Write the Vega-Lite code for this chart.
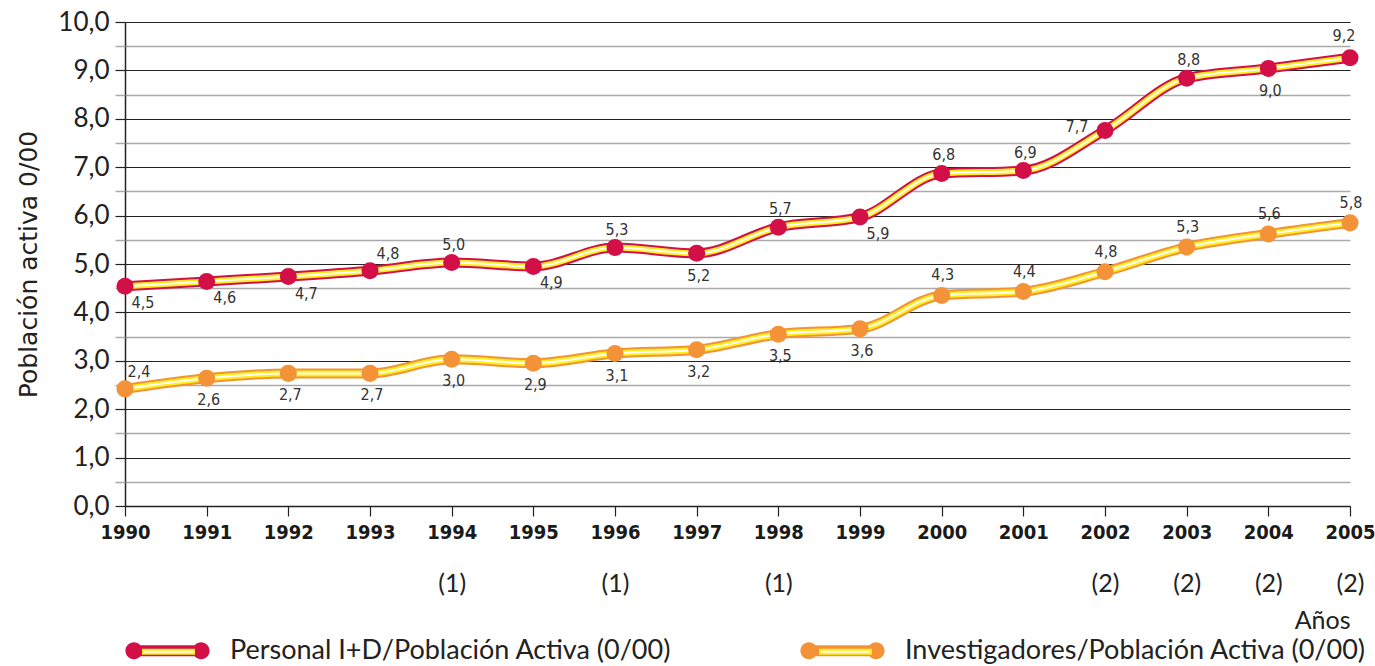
{
  "$schema": "https://vega.github.io/schema/vega-lite/v6.json",
  "width": 1225,
  "height": 484,
  "autosize": {"type": "none"},
  "padding": {"left": 125, "top": 22, "right": 25, "bottom": 160},
  "background": "white",
  "config": {"view": {"stroke": null}, "font": "Lato"},
  "data": {"values": [
    {"year": 1990, "serie": "Personal I+D/Población Activa (0/00)", "value": 4.54, "label": "4,5"},
    {"year": 1991, "serie": "Personal I+D/Población Activa (0/00)", "value": 4.64, "label": "4,6"},
    {"year": 1992, "serie": "Personal I+D/Población Activa (0/00)", "value": 4.74, "label": "4,7"},
    {"year": 1993, "serie": "Personal I+D/Población Activa (0/00)", "value": 4.86, "label": "4,8"},
    {"year": 1994, "serie": "Personal I+D/Población Activa (0/00)", "value": 5.03, "label": "5,0"},
    {"year": 1995, "serie": "Personal I+D/Población Activa (0/00)", "value": 4.95, "label": "4,9"},
    {"year": 1996, "serie": "Personal I+D/Población Activa (0/00)", "value": 5.34, "label": "5,3"},
    {"year": 1997, "serie": "Personal I+D/Población Activa (0/00)", "value": 5.22, "label": "5,2"},
    {"year": 1998, "serie": "Personal I+D/Población Activa (0/00)", "value": 5.76, "label": "5,7"},
    {"year": 1999, "serie": "Personal I+D/Población Activa (0/00)", "value": 5.97, "label": "5,9"},
    {"year": 2000, "serie": "Personal I+D/Población Activa (0/00)", "value": 6.87, "label": "6,8"},
    {"year": 2001, "serie": "Personal I+D/Población Activa (0/00)", "value": 6.93, "label": "6,9"},
    {"year": 2002, "serie": "Personal I+D/Población Activa (0/00)", "value": 7.76, "label": "7,7"},
    {"year": 2003, "serie": "Personal I+D/Población Activa (0/00)", "value": 8.84, "label": "8,8"},
    {"year": 2004, "serie": "Personal I+D/Población Activa (0/00)", "value": 9.04, "label": "9,0"},
    {"year": 2005, "serie": "Personal I+D/Población Activa (0/00)", "value": 9.26, "label": "9,2"},
    {"year": 1990, "serie": "Investigadores/Población Activa (0/00)", "value": 2.42, "label": "2,4"},
    {"year": 1991, "serie": "Investigadores/Población Activa (0/00)", "value": 2.64, "label": "2,6"},
    {"year": 1992, "serie": "Investigadores/Población Activa (0/00)", "value": 2.74, "label": "2,7"},
    {"year": 1993, "serie": "Investigadores/Población Activa (0/00)", "value": 2.74, "label": "2,7"},
    {"year": 1994, "serie": "Investigadores/Población Activa (0/00)", "value": 3.03, "label": "3,0"},
    {"year": 1995, "serie": "Investigadores/Población Activa (0/00)", "value": 2.95, "label": "2,9"},
    {"year": 1996, "serie": "Investigadores/Población Activa (0/00)", "value": 3.15, "label": "3,1"},
    {"year": 1997, "serie": "Investigadores/Población Activa (0/00)", "value": 3.23, "label": "3,2"},
    {"year": 1998, "serie": "Investigadores/Población Activa (0/00)", "value": 3.55, "label": "3,5"},
    {"year": 1999, "serie": "Investigadores/Población Activa (0/00)", "value": 3.66, "label": "3,6"},
    {"year": 2000, "serie": "Investigadores/Población Activa (0/00)", "value": 4.35, "label": "4,3"},
    {"year": 2001, "serie": "Investigadores/Población Activa (0/00)", "value": 4.43, "label": "4,4"},
    {"year": 2002, "serie": "Investigadores/Población Activa (0/00)", "value": 4.84, "label": "4,8"},
    {"year": 2003, "serie": "Investigadores/Población Activa (0/00)", "value": 5.35, "label": "5,3"},
    {"year": 2004, "serie": "Investigadores/Población Activa (0/00)", "value": 5.62, "label": "5,6"},
    {"year": 2005, "serie": "Investigadores/Población Activa (0/00)", "value": 5.85, "label": "5,8"}
  ]},
  "resolve": {"axis": {"x": "independent", "y": "independent"}},
  "layer": [
    {
      "mark": {"type": "line", "strokeWidth": 10, "interpolate": "monotone"},
      "encoding": {
        "x": {"field": "year", "type": "ordinal", "sort": "ascending",
          "scale": {"type": "point", "padding": 0},
          "axis": {"title": null, "labelAngle": 0, "domainColor": "#222", "domainWidth": 1.5, "tickColor": "#222", "tickWidth": 1.2, "tickSize": 10, "grid": false,
            "labelFont": "DejaVu Sans Condensed", "labelFontWeight": "bold", "labelFontSize": 20, "labelColor": "#1a1a1a", "labelPadding": 6}},
        "y": {"field": "value", "type": "quantitative",
          "scale": {"domain": [0, 10], "nice": false, "zero": true},
          "axis": {"values": [0,1,2,3,4,5,6,7,8,9,10], "grid": true, "gridColor": "#222", "gridWidth": 1.2, "gridOpacity": 1,
            "tickColor": "#222", "tickSize": 10, "tickWidth": 1.2, "domainColor": "#222", "domainWidth": 1.5,
            "labelExpr": "replace(format(datum.value, '.1f'), '.', ',')", "labelFont": "Lato", "labelFontSize": 26, "labelColor": "#222", "labelPadding": 6,
            "title": "Población activa 0/00", "titleFont": "DejaVu Sans", "titleFontSize": 25, "titleFontWeight": "normal", "titleColor": "#222", "titlePadding": 16}},
        "color": {"field": "serie", "type": "nominal",
          "scale": {"domain": ["Personal I+D/Población Activa (0/00)", "Investigadores/Población Activa (0/00)"], "range": ["#D20F46", "#F39236"]},
          "legend": {"title": null, "orient": "none", "legendX": 0, "legendY": 586, "direction": "horizontal", "zindex": 0,
            "symbolType": "M -0.79 -0.2 A 0.2 0.2 0 1 1 -0.79 0.2 A 0.2 0.2 0 1 1 -0.79 -0.2 Z M 0.79 -0.2 A 0.2 0.2 0 1 1 0.79 0.2 A 0.2 0.2 0 1 1 0.79 -0.2 Z M -0.79 -0.13 L 0.79 -0.13 L 0.79 0.13 L -0.79 0.13 Z",
            "symbolSize": 7225, "symbolStrokeWidth": 0, "symbolOpacity": 1,
            "labelFont": "Lato", "labelFontSize": 27, "labelColor": "#222", "labelOffset": 20, "labelLimit": 700, "columnPadding": 128}}
      }
    },
    {
      "mark": {"type": "line", "strokeWidth": 6, "interpolate": "monotone", "color": "#FFEF1A"},
      "encoding": {
        "x": {"field": "year", "type": "ordinal", "sort": "ascending",
          "axis": {"orient": "bottom", "domain": false, "ticks": false, "grid": false, "labelAngle": 0,
            "labelExpr": "indexof([1994,1996,1998], +datum.value) >= 0 ? '(1)' : (+datum.value >= 2002 ? '(2)' : '')",
            "labelFont": "Lato", "labelFontSize": 25, "labelColor": "#222", "labelPadding": 65,
            "title": "Años", "titleAnchor": "end", "titleAlign": "right", "titleFont": "Lato", "titleFontSize": 25, "titleFontWeight": "normal", "titleColor": "#222", "titlePadding": 12}},
        "y": {"field": "value", "type": "quantitative",
          "axis": {"orient": "left", "values": [0.5,1.5,2.5,3.5,4.5,5.5,6.5,7.5,8.5,9.5], "grid": true, "gridColor": "#aaaaaa", "gridWidth": 1.5, "gridOpacity": 1,
            "tickColor": "#aaaaaa", "tickSize": 10, "tickWidth": 1.5, "domain": false, "labels": false, "title": null}},
        "detail": {"field": "serie"}
      }
    },
    {
      "transform": [{"calculate": "datum.serie + ' '", "as": "serie_key"}],
      "mark": {"type": "line", "strokeWidth": 2, "interpolate": "monotone", "color": "white"},
      "encoding": {
        "x": {"field": "year", "type": "ordinal", "sort": "ascending", "axis": null},
        "y": {"field": "value", "type": "quantitative", "axis": null},
        "detail": {"field": "serie"},
        "opacity": {"field": "serie_key", "type": "nominal",
          "scale": {"domain": ["Personal I+D/Población Activa (0/00) ", "Investigadores/Población Activa (0/00) "], "range": [1, 1]},
          "legend": {"title": null, "orient": "none", "legendX": 0, "legendY": 586, "direction": "horizontal", "zindex": 2,
            "symbolType": "M -0.99 0 L -0.99 0 M 0.99 0 L 0.99 0 M -0.6 -0.047 L 0.6 -0.047 L 0.6 0.047 L -0.6 0.047 Z",
            "symbolSize": 7225, "symbolStrokeWidth": 2, "symbolStrokeColor": "#FFEF1A", "symbolFillColor": "white", "symbolOpacity": 1,
            "labelExpr": "''", "labelFont": "Lato", "labelFontSize": 27, "labelOffset": 20, "labelLimit": 700, "columnPadding": 567}}
      }
    },
    {
      "mark": {"type": "point", "filled": true, "opacity": 1, "size": 290, "shape": "circle"},
      "encoding": {
        "x": {"field": "year", "type": "ordinal", "sort": "ascending", "axis": null},
        "y": {"field": "value", "type": "quantitative", "axis": null},
        "color": {"field": "serie", "type": "nominal"}
      }
    },
    {
      "transform": [{"filter": "(datum.serie == 'Personal I+D/Población Activa (0/00)' && indexof([1990,1991,1992,1995,1999], datum.year) >= 0)"}],
      "mark": {"type": "text", "font": "DejaVu Sans Condensed", "fontSize": 16, "color": "#333", "dx": 18, "dy": 17},
      "encoding": {"x": {"field": "year", "type": "ordinal", "sort": "ascending", "axis": null}, "y": {"field": "value", "type": "quantitative", "axis": null}, "text": {"field": "label"}}
    },
    {
      "transform": [{"filter": "(datum.serie == 'Personal I+D/Población Activa (0/00)' && datum.year == 1993)"}],
      "mark": {"type": "text", "font": "DejaVu Sans Condensed", "fontSize": 16, "color": "#333", "dx": 18, "dy": -17},
      "encoding": {"x": {"field": "year", "type": "ordinal", "sort": "ascending", "axis": null}, "y": {"field": "value", "type": "quantitative", "axis": null}, "text": {"field": "label"}}
    },
    {
      "transform": [{"filter": "(datum.serie == 'Personal I+D/Población Activa (0/00)' && indexof([1994,1996,1998,2000,2001,2003], datum.year) >= 0)"}],
      "mark": {"type": "text", "font": "DejaVu Sans Condensed", "fontSize": 16, "color": "#333", "dx": 2, "dy": -18},
      "encoding": {"x": {"field": "year", "type": "ordinal", "sort": "ascending", "axis": null}, "y": {"field": "value", "type": "quantitative", "axis": null}, "text": {"field": "label"}}
    },
    {
      "transform": [{"filter": "(datum.serie == 'Personal I+D/Población Activa (0/00)' && datum.year == 2005)"}],
      "mark": {"type": "text", "font": "DejaVu Sans Condensed", "fontSize": 16, "color": "#333", "dx": -6, "dy": -22},
      "encoding": {"x": {"field": "year", "type": "ordinal", "sort": "ascending", "axis": null}, "y": {"field": "value", "type": "quantitative", "axis": null}, "text": {"field": "label"}}
    },
    {
      "transform": [{"filter": "(datum.serie == 'Personal I+D/Población Activa (0/00)' && indexof([1997,2004], datum.year) >= 0)"}],
      "mark": {"type": "text", "font": "DejaVu Sans Condensed", "fontSize": 16, "color": "#333", "dx": 2, "dy": 23},
      "encoding": {"x": {"field": "year", "type": "ordinal", "sort": "ascending", "axis": null}, "y": {"field": "value", "type": "quantitative", "axis": null}, "text": {"field": "label"}}
    },
    {
      "transform": [{"filter": "(datum.serie == 'Personal I+D/Población Activa (0/00)' && datum.year == 2002)"}],
      "mark": {"type": "text", "font": "DejaVu Sans Condensed", "fontSize": 16, "color": "#333", "dx": -28, "dy": -3},
      "encoding": {"x": {"field": "year", "type": "ordinal", "sort": "ascending", "axis": null}, "y": {"field": "value", "type": "quantitative", "axis": null}, "text": {"field": "label"}}
    },
    {
      "transform": [{"filter": "(datum.serie == 'Investigadores/Población Activa (0/00)' && datum.year == 1990)"}],
      "mark": {"type": "text", "font": "DejaVu Sans Condensed", "fontSize": 16, "color": "#333", "dx": 14, "dy": -17},
      "encoding": {"x": {"field": "year", "type": "ordinal", "sort": "ascending", "axis": null}, "y": {"field": "value", "type": "quantitative", "axis": null}, "text": {"field": "label"}}
    },
    {
      "transform": [{"filter": "(datum.serie == 'Investigadores/Población Activa (0/00)' && datum.year >= 1991 && datum.year <= 1999)"}],
      "mark": {"type": "text", "font": "DejaVu Sans Condensed", "fontSize": 16, "color": "#333", "dx": 2, "dy": 22},
      "encoding": {"x": {"field": "year", "type": "ordinal", "sort": "ascending", "axis": null}, "y": {"field": "value", "type": "quantitative", "axis": null}, "text": {"field": "label"}}
    },
    {
      "transform": [{"filter": "(datum.serie == 'Investigadores/Población Activa (0/00)' && datum.year >= 2000)"}],
      "mark": {"type": "text", "font": "DejaVu Sans Condensed", "fontSize": 16, "color": "#333", "dx": 1, "dy": -20},
      "encoding": {"x": {"field": "year", "type": "ordinal", "sort": "ascending", "axis": null}, "y": {"field": "value", "type": "quantitative", "axis": null}, "text": {"field": "label"}}
    }
  ]
}
